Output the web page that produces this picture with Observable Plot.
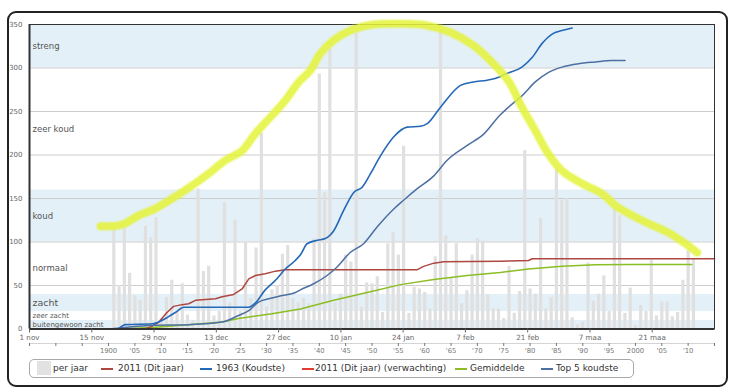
<!DOCTYPE html>
<html><head><meta charset="utf-8">
<script src="https://cdn.jsdelivr.net/npm/d3@7"></script>
<script src="https://cdn.jsdelivr.net/npm/@observablehq/plot@0.6"></script>
<style>
html,body{margin:0;padding:0;background:#fff;}
#wrap{position:relative;width:732px;height:390px;font-family:"DejaVu Sans",sans-serif;overflow:hidden;background:#fff}
#frame{position:absolute;left:7px;top:11px;width:721px;height:376px;box-sizing:border-box;border:2px solid #222;border-radius:9px;}
.layer{position:absolute;left:0;top:0}
#legend{position:absolute;left:29px;top:359px;width:605px;height:19px;box-sizing:border-box;border:1px solid #a8a8a8;border-radius:5px;background:#fff}
.lt{position:absolute;top:0;height:17px;line-height:17px;font-size:9px;color:#333;white-space:nowrap}
.sw{position:absolute}
</style></head>
<body>
<div id="wrap"><div id="frame"></div><div id="legend"></div></div>
<script>
// ---------- data ----------
const barYears = d3.range(1901, 2012);
const barValues = [
 115,50,115,64,38,33,118,105,128,12,      // 1901-1910
 36,56,20,52,16,10,161,66,72,15,          // 1911-1920
 20,145,30,125,20,100,35,93,225,25,       // 1921-1930
 45,50,86,96,35,30,35,29,104,293,         // 1931-1940
 157,322,30,40,85,77,340,25,53,52,        // 1941-1950
 60,19,98,111,85,210,18,48,46,42,         // 1951-1960
 23,83,345,107,58,98,29,44,85,104,        // 1961-1970
 101,39,23,23,12,72,18,43,205,46,         // 1971-1980
 40,127,23,36,184,148,150,13,5,8,         // 1981-1990
 76,32,40,61,20,138,130,18,47,4,          // 1991-2000
 27,20,79,15,31,31,14,19,56,90,           // 2001-2010
 80                                       // 2011
];
const bandNames = ["buitengewoon zacht","zeer zacht","zacht","normaal","koud","zeer koud","streng"];
const bandLow  = [0,10,20,40,100,160,300];
const bandHigh = [10,20,40,100,160,300,350];
const bandShaded = [true,false,true,false,true,false,true];

// days since 1 nov 2010, koudegetal
const s2011 = [[26,0],[27.5,3],[29.1,8],[30.9,19],[32.4,26],[34.3,28],[35.8,29],[37.3,33],[39.6,34],[41.8,34.7],[43.3,37],[45.9,39.7],[47.8,46],[49.3,57.7],[50.8,61.5],[53,63.4],[55.3,66.5],[57.5,68],[87.1,68],[88.6,72],[90.9,75.7],[93.1,77.2],[105.8,78],[112.2,78.7],[113,80.7],[154,80.7]];
const s1963 = [[20,0],[21.6,5],[27.6,6],[29,8],[31.2,14],[32.8,19],[34.7,25],[49.3,25],[50.8,30],[53,45],[55.3,56],[57.5,69],[59.8,79],[61,86],[62.4,98],[64.7,102],[66.5,104],[68.4,113],[70.6,136],[72.9,157],[74.8,163],[76.6,178],[78.9,199],[81.9,221],[84.9,232],[87.9,233],[89.4,236],[92.4,255],[96.9,280],[99.8,284],[102.9,286],[105.8,290],[107,293],[110.7,301],[113,312],[115.2,328],[117.5,339],[119.7,343],[122,346]];
const sTop5 = [[18,0],[22,2],[26.8,4],[35.7,5],[43.3,8],[47,15.5],[49.3,21],[51.5,31],[53.8,34.7],[56.8,38.5],[59.8,42],[60.9,45],[63.9,52],[66.9,61.5],[69.1,71],[72.1,88],[75.1,98],[78.1,117],[81.9,138],[84.1,148],[87.1,161],[90.9,176],[93.9,194],[98.4,211],[102.1,224],[105.8,246],[107.7,255],[110.7,268],[113.7,284],[116.7,295],[119.7,301],[123.5,305],[127.2,307],[130.9,308.6],[133.9,308.6]];
const sGem = [[20,0],[28.3,2],[35.8,5],[43.3,8],[47,12],[54.5,17.5],[60.9,23],[68.4,33],[75.9,42],[83.4,51],[90.9,57],[98.4,61.5],[105.8,65],[112.2,69],[119.7,72],[127.2,73.8],[134.7,74],[148.9,74]];
const sMarker = [[16,118],[20.8,120],[24.6,130.5],[28.3,138.5],[32.1,150],[36.6,165],[40.3,178.7],[44,193.7],[47.8,205],[50.8,224.7],[54.5,245.4],[57.5,262.6],[60.5,283.7],[63.1,297],[65.4,316.7],[68.3,331.6],[72.1,343],[77.3,350],[83.4,350.8],[89.4,348.9],[94.6,341],[99.8,325.9],[103.6,308.6],[107.6,285.6],[110.7,255],[113.7,228],[116.6,201.7],[119.7,182],[124.2,167.2],[128.7,155.7],[131.7,142],[134.6,133],[139.1,121.3],[143.6,110.9],[147.4,98.3],[150.1,87.9]];

const yTicks = [0,50,100,150,200,250,300,350];
const dateTickDays = [0,14,28,42,56,70,84,98,112,126,140];
const dateTickLabels = ["1 nov","15 nov","29 nov","13 dec","27 dec","10 jan","24 jan","7 feb","21 feb","7 maa","21 maa"];
const yearTickValues = [1900,1905,1910,1915,1920,1925,1930,1935,1940,1945,1950,1955,1960,1965,1970,1975,1980,1985,1990,1995,2000,2005,2010];
const yearTickLabels = ["1900","'05","'10","'15","'20","'25","'30","'35","'40","'45","'50","'55","'60","'65","'70","'75","'80","'85","'90","'95","2000","'05","'10"];

const legendLabels = ["per jaar","2011 (Dit jaar)","1963 (Koudste)","2011 (Dit jaar) (verwachting)","Gemiddelde","Top 5 koudste"];

// ---------- styles ----------
const C2011 = "#ad4740", C1963 = "#2468b8", CVerw = "#e23c30", CGem = "#8cbd24", CTop5 = "#4d6fa3";
const legendColors = ["#e2e2e2", C2011, C1963, CVerw, CGem, CTop5];
const legendSwatchX = [7, 71, 170, 272, 425, 511];
const legendTextX = [23, 88, 186, 285, 440, 526];
const bandFont = {"buitengewoon zacht":7,"zeer zacht":7,"zacht":9.5};

// ---------- build ----------
const bars = barYears.map((y,i)=>({year:y, value:barValues[i]}));
const bands = bandNames.map((n,i)=>({name:n, lo:bandLow[i], hi:bandHigh[i], shaded:bandShaded[i]}));
const start = Date.UTC(2010,10,1);
const toDate = d => new Date(start + d*864e5);
const toRows = s => s.map(([d,v])=>({date:toDate(d), value:v}));
const dateLabelMap = new Map(dateTickDays.map((d,i)=>[+toDate(d), dateTickLabels[i]]));
const yearLabelMap = new Map(yearTickValues.map((y,i)=>[y, yearTickLabels[i]]));
const yearMinor = d3.range(1885, 2016, 5);

const W=732, H=362, MT=24, ML=29, MR=18, MB=H-328.5;
const common = {width:W, height:H, marginTop:MT, marginLeft:ML, marginRight:MR, marginBottom:MB,
  style:{fontFamily:"DejaVu Sans", background:"transparent", overflow:"visible"}};

const p1 = Plot.plot({...common,
  x:{domain:[1885,2015]},
  y:{domain:[0,350]},
  marks:[
    Plot.rect(bands,{y1:"lo", y2:"hi", fill:d=>d.shaded?"#e3f0f7":"#ffffff"}),
    Plot.ruleY(yTicks.slice(1),{stroke:"#cdcdcd", strokeWidth:1}),
    Plot.ruleX(bars,{x:"year", y1:0, y2:"value", stroke:"#e0e0e0", strokeWidth:3.2}),
    Plot.text(bands,{y:d=>(d.lo+d.hi)/2, text:"name", frameAnchor:"left", dx:3, textAnchor:"start",
      fontSize:d=>bandFont[d.name]||8.5, fill:"#555"}),
    Plot.axisY({ticks:yTicks, tickSize:0, tickPadding:7, fontSize:7, color:"#666", label:null}),
    Plot.ruleY([0],{dy:14.5, stroke:"#d4d4d4"}),
    Plot.axisX({ticks:yearMinor, tickFormat:d=>yearLabelMap.get(d)||"", tickSize:3, tickPadding:2, dy:14.5,
      fontSize:6.8, color:"#777", label:null})
  ]
});

const p2 = Plot.plot({...common,
  x:{type:"utc", domain:[toDate(0), toDate(154)]},
  y:{domain:[0,350], axis:null},
  marks:[
    Plot.line(toRows(sGem),{x:"date", y:"value", stroke:CGem, strokeWidth:1.5}),
    Plot.line(toRows(s2011),{x:"date", y:"value", stroke:C2011, strokeWidth:1.5}),
    Plot.line(toRows(sTop5),{x:"date", y:"value", stroke:CTop5, strokeWidth:1.5, curve:"monotone-x"}),
    Plot.line(toRows(s1963),{x:"date", y:"value", stroke:C1963, strokeWidth:1.6, curve:"monotone-x"}),
    Plot.frame({stroke:"#333", strokeWidth:1}),
    Plot.ruleY([0],{stroke:"#333", strokeWidth:2}),
    Plot.ruleX([toDate(0)],{stroke:"#333", strokeWidth:2}),
    Plot.axisX({ticks:dateTickDays.map(toDate), tickFormat:d=>dateLabelMap.get(+d)||"", tickSize:4, tickPadding:2,
      fontSize:7.2, color:"#666", label:null}),
    Plot.line(toRows(sMarker),{x:"date", y:"value", stroke:"#e6f53e", strokeOpacity:0.3, strokeWidth:10,
      strokeLinecap:"round", strokeLinejoin:"round", curve:"catmull-rom"}),
    Plot.line(toRows(sMarker),{x:"date", y:"value", stroke:"#e3f33a", strokeOpacity:0.8, strokeWidth:7,
      strokeLinecap:"round", strokeLinejoin:"round", curve:"catmull-rom"})
  ]
});

const wrap = document.getElementById("wrap");
[p1,p2].forEach(p=>{p.classList.add("layer"); p.style.position="absolute"; p.style.left="0"; p.style.top="0"; wrap.appendChild(p);});
wrap.appendChild(document.getElementById("legend"));

const lg = document.getElementById("legend");
legendLabels.forEach((lab,i)=>{
  const sw = document.createElement("div");
  sw.className="sw";
  if(i===0){ Object.assign(sw.style,{left:legendSwatchX[i]+"px", top:"1px", width:"14px", height:"14px", background:legendColors[i]}); }
  else { Object.assign(sw.style,{left:legendSwatchX[i]+"px", top:"8px", width:"12px", height:"2px", background:legendColors[i]}); }
  lg.appendChild(sw);
  const t = document.createElement("div");
  t.className="lt"; t.style.left=legendTextX[i]+"px"; t.textContent=lab;
  lg.appendChild(t);
});
</script>
</body></html>
